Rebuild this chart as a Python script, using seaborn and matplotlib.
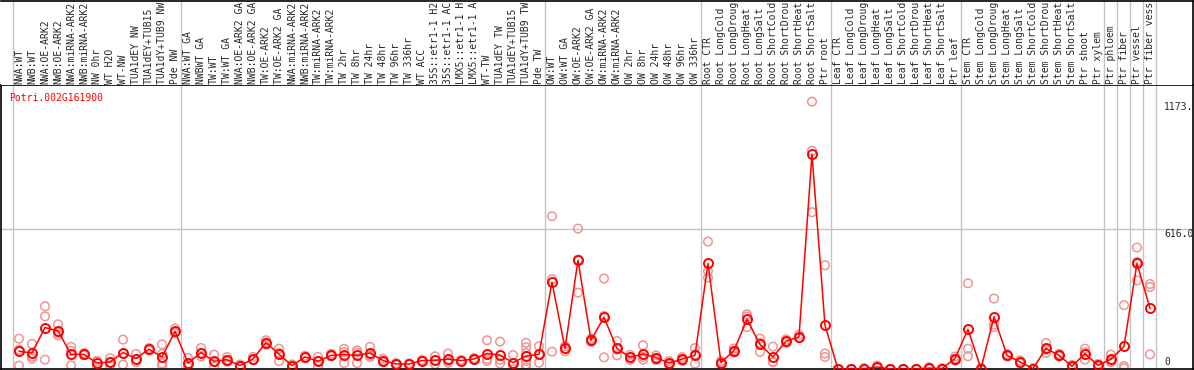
import matplotlib
matplotlib.use('Agg')
import matplotlib.pyplot as plt
import numpy as np
import pandas as pd
import seaborn as sns

# sample labels (as shown, truncated to 14 chars)
labels = [
    'NWA:WT', 'NWB:WT', 'NWA:OE-ARK2', 'NWB:OE-ARK2', 'NWA:miRNA-ARK2', 'NWB:miRNA-ARK2',
    'NW 0hr', 'WT H2O', 'WT-NW', 'TUA1dEY NW', 'TUA1dEY+TUB15', 'TUA1dY+TUB9 NW', 'Pde NW',
    'NWA:WT GA', 'NWBWT GA', 'TW:WT', 'TW:WT GA', 'NWA:OE-ARK2 GA', 'NWB:OE-ARK2 GA',
    'TW:OE-ARK2', 'TW:OE-ARK2 GA', 'NWA:miRNA-ARK2', 'NWB:miRNA-ARK2', 'TW:miRNA-ARK2',
    'TW:miRNA-ARK2', 'TW 2hr', 'TW 8hr', 'TW 24hr', 'TW 48hr', 'TW 96hr', 'TW 336hr',
    'WT ACC', '35S::etr1-1 H2', '35S::etr1-1 AC', 'LMX5::etr1-1 H', 'LMX5::etr1-1 A',
    'WT-TW', 'TUA1dEY TW', 'TUA1dEY+TUB15', 'TUA1dY+TUB9 TW', 'Pde TW',
    'OW:WT', 'OW:WT GA', 'OW:OE-ARK2', 'OW:OE-ARK2 GA', 'OW:miRNA-ARK2', 'OW:miRNA-ARK2',
    'OW 2hr', 'OW 8hr', 'OW 24hr', 'OW 48hr', 'OW 96hr', 'OW 336hr',
    'Root CTR', 'Root LongCold', 'Root LongDroug', 'Root LongHeat', 'Root LongSalt',
    'Root ShortCold', 'Root ShortDrou', 'Root ShortHeat', 'Root ShortSalt', 'Ptr root',
    'Leaf CTR', 'Leaf LongCold', 'Leaf LongDroug', 'Leaf LongHeat', 'Leaf LongSalt',
    'Leaf ShortCold', 'Leaf ShortDrou', 'Leaf ShortHeat', 'Leaf ShortSalt', 'Ptr leaf',
    'Stem CTR', 'Stem LongCold', 'Stem LongDroug', 'Stem LongHeat', 'Stem LongSalt',
    'Stem ShortCold', 'Stem ShortDrou', 'Stem ShortHeat', 'Stem ShortSalt', 'Ptr shoot',
    'Ptr xylem', 'Ptr phloem', 'Ptr fiber', 'Ptr vessel', 'Ptr fiber vess',
]

means = [
    78, 70, 182, 167, 64, 64, 26, 31, 72, 46, 87, 53, 165,
    26, 72, 34, 41, 15, 44, 116, 65, 15, 53, 34, 60, 63, 60, 70, 37, 22, 22, 37,
    38, 43, 37, 44, 68, 61, 28, 57, 65,
    381, 90, 477, 126, 227, 90, 51, 66, 50, 26, 43, 60,
    463, 28, 81, 218, 108, 53, 122, 141, 942, 192,
    0, 0, 2, 9, 0, 0, 0, 4, 2, 46,
    174, 2, 229, 60, 31, 2, 90, 60, 12, 68, 16,
    43, 99, 464, 266,
]

replicates = [
    [133, 85, 15], [110, 55, 45], [275, 231, 41], [196, 157, 148], [97, 79, 16],
    [70, 62, 60], [35, 33, 9], [47, 30, 16], [129, 68, 19], [66, 42, 30],
    [92, 83, 86], [108, 66, 25, 13], [178, 160, 158],
    [48, 20, 9], [92, 70, 55], [63, 30, 9], [52, 40, 32], [20, 15, 10],
    [53, 40, 39], [126, 116, 106], [89, 70, 35], [20, 15, 10], [58, 52, 49],
    [53, 36, 13], [66, 58, 56], [89, 74, 26], [82, 72, 26], [97, 60, 53],
    [45, 36, 30], [26, 22, 18], [25, 21, 20], [40, 36, 35], [56, 38, 21],
    [68, 32, 28], [40, 37, 34], [48, 44, 40], [126, 44, 35], [120, 40, 24],
    [61, 24, 0], [115, 95, 70, 35, 20, 7], [100, 66, 28],
    [670, 394, 76], [100, 90, 78], [616, 480, 335], [133, 126, 119], [397, 233, 51],
    [123, 86, 60], [62, 51, 40], [104, 53, 41], [60, 50, 40], [35, 25, 18],
    [52, 42, 35], [92, 64, 24],
    [559, 429, 401], [35, 28, 21], [90, 80, 72], [240, 230, 184], [133, 115, 75],
    [98, 31, 30], [130, 122, 114], [150, 138, 135], [1173, 957, 688], [455, 68, 53],
    [0, 0, 0], [0, 0, 0], [4, 2, 0], [15, 8, 4], [0, 0, 0],
    [0, 0, 0], [0, 0, 0], [8, 3, 1], [4, 2, 0], [55, 45, 37],
    [376, 89, 56], [4, 2, 0], [309, 195, 184], [65, 60, 55], [38, 30, 25],
    [4, 2, 0], [114, 85, 70], [66, 60, 54], [18, 12, 6], [89, 74, 41], [22, 16, 10],
    [63, 35, 30], [280, 13, 4], [533, 470, 389], [373, 360, 64],
]

group_edges = [-0.5, 12.5, 40.5, 52.5, 62.5, 72.5, 83.5, 84.5, 85.5, 86.5, 87.5]
gene = 'Potri.002G161900'
mid_value = 616.0
max_value = 1173.0

sns.set_style('white')
plt.rcParams['font.family'] = ['DejaVu Sans Mono']

pos = np.arange(len(labels))
rep_df = pd.DataFrame([(i, v) for i, vals in enumerate(replicates) for v in vals],
                      columns=['pos', 'value'])

W, H = 1194, 370
fig = plt.figure(figsize=(W / 100, H / 100), dpi=100)
ax = fig.add_axes([1 / W, 1 / H, 1192 / W, 284 / H])
hd = fig.add_axes([1 / W, 285 / H, 1192 / W, 84.5 / H])

xlim = (-1.385, 90.31)
grey = '#C4C4C4'

# main panel
ax.axhline(mid_value, color=grey, lw=1, zorder=0)
for e in group_edges:
    ax.axvline(e, color=grey, lw=1, zorder=0)
    hd.axvline(e, color=grey, lw=1, zorder=0)

sns.scatterplot(data=rep_df, x='pos', y='value', ax=ax, s=38, marker='o', zorder=2)
for coll in ax.collections:
    coll.set_facecolor('none')
    coll.set_edgecolor('#F09494')
    coll.set_linewidth(1.1)

sns.lineplot(x=pos, y=means, ax=ax, color='#FF0000', lw=1.1, marker='o', markersize=6.5,
             markerfacecolor='none', markeredgecolor='#FF0000', markeredgewidth=1.4, zorder=3)

ax.set_xlim(*xlim)
ax.set_ylim(0, 1246)
ax.set_xticks([])
ax.set_yticks([])
ax.set_xlabel('')
ax.set_ylabel('')
for s in ax.spines.values():
    s.set_color('black')
    s.set_linewidth(1.2)

ax.text(8 / 1192, 1 - 8 / 284, gene, transform=ax.transAxes, color='#FF0000',
        fontsize=7, va='top', ha='left')
# right-hand value labels (max label is shown truncated in the original)
ax.text(88.08, max_value, f'{max_value:.0f}.', fontsize=7, va='top', ha='left')
ax.text(88.08, mid_value, f'{mid_value:.1f}', fontsize=7, va='top', ha='left')
ax.text(88.08, 10, '0', fontsize=7, va='bottom', ha='left')

# header with sample names
hd.set_xlim(*xlim)
hd.set_ylim(0, 84.5)
hd.set_xticks([])
hd.set_yticks([])
for i, lab in enumerate(labels):
    hd.text(i, 1.5, lab, rotation=90, va='bottom', ha='center', fontsize=7, clip_on=True)
hd.spines['left'].set_visible(False)
hd.spines['bottom'].set_visible(False)
for s in ['top', 'right']:
    hd.spines[s].set_color('black')
    hd.spines[s].set_linewidth(1.2)

fig.savefig('out.png', dpi=100)
